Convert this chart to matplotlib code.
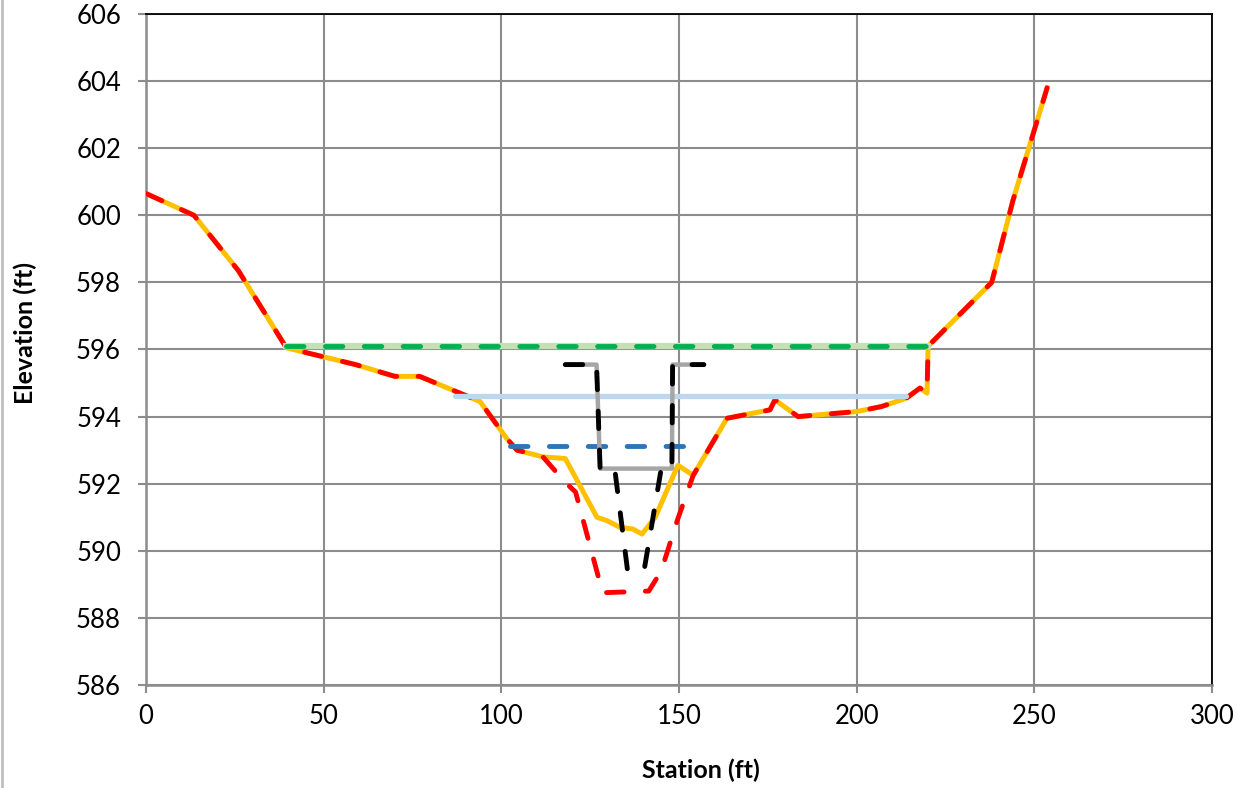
import matplotlib
matplotlib.use("Agg")
import matplotlib.pyplot as plt
from matplotlib.lines import Line2D

# existing ground profile
existing_sta = [0, 13.5, 26, 39.5, 59, 70, 77, 94, 101.5, 104.4, 111.7, 118,
                126.9, 129.7, 133.4, 137, 139.6, 143.3, 149.7, 154, 163.5,
                175.6, 177, 183.5, 200, 207, 214, 217.8, 219.8, 220.1, 238,
                244, 253.6]
existing_elev = [600.65, 600.0, 598.35, 596.05, 595.55, 595.2, 595.2, 594.45,
                 593.35, 593.0, 592.8, 592.75, 591.0, 590.9, 590.7, 590.65,
                 590.5, 591.0, 592.55, 592.25, 593.95, 594.2, 594.5, 594.0,
                 594.15, 594.3, 594.55, 594.85, 594.7, 596.1, 598.0, 600.45,
                 603.8]

# proposed ground profile (differs only in the channel)
proposed_sta = [0, 13.5, 26, 39.5, 59, 70, 77, 94, 101.5, 104.4, 111.7, 117.9,
                120.9, 128.5, 141.5, 145, 149.5, 154, 163.5, 175.6, 177, 183.5,
                200, 207, 214, 217.8, 219.8, 220.1, 238, 244, 253.6]
proposed_elev = [600.65, 600.0, 598.35, 596.05, 595.55, 595.2, 595.2, 594.45,
                 593.35, 593.0, 592.8, 592.05, 591.75, 588.75, 588.8, 589.4,
                 590.9, 592.25, 593.95, 594.2, 594.5, 594.0, 594.15, 594.3,
                 594.55, 594.85, 594.7, 596.1, 598.0, 600.45, 603.8]

# design channel sections
channel_sta = [118, 126.8, 127.8, 148, 148.2, 157]
channel_elev = [595.55, 595.55, 592.45, 592.45, 595.55, 595.55]
lowflow_sta = [118, 126.8, 127.8, 131.9, 135.5, 140.2, 145, 148, 148.2, 157]
lowflow_elev = [595.55, 595.55, 592.45, 592.45, 589.43, 589.43, 592.45,
                592.45, 595.55, 595.55]

# water surfaces
ws_high_sta = [39.5, 220]
ws_high_elev = [596.1, 596.1]
ws_mid_sta = [87, 214]
ws_mid_elev = [594.6, 594.6]
ws_low_sta = [102.4, 156]
ws_low_elev = [593.12, 593.12]

xticks = [0, 50, 100, 150, 200, 250, 300]
yticks = [586, 588, 590, 592, 594, 596, 598, 600, 602, 604, 606]


def dashed(ax, x, y, color, lw=3.5, z=3):
    line, = ax.plot(x, y, color=color, lw=lw, zorder=z,
                    dash_capstyle='round', solid_capstyle='round')
    line.set_dashes((3.6, 4.4))
    return line


def main():
    plt.rcParams['font.family'] = ['Lato', 'DejaVu Sans']
    fig = plt.figure(figsize=(12.38, 7.88), dpi=100)
    ax = fig.add_axes([146 / 1238, 1 - 685 / 788,
                       (1212 - 146) / 1238, (685 - 14) / 788])

    ax.plot(existing_sta, existing_elev, color='#FFC000', lw=3.6, zorder=3,
            solid_joinstyle='round')
    dashed(ax, proposed_sta, proposed_elev, '#FF0000', z=4)

    ax.plot(ws_high_sta, ws_high_elev, color='#C5E0B4', lw=4.5, zorder=5)
    dashed(ax, ws_high_sta, ws_high_elev, '#00B050', z=6)
    ax.plot(ws_mid_sta, ws_mid_elev, color='#BDD7EE', lw=3.8, zorder=5,
            solid_capstyle='round')
    dashed(ax, ws_low_sta, ws_low_elev, '#2E75B6', z=6)

    ax.plot(channel_sta, channel_elev, color='#A6A6A6', lw=3.2, zorder=7,
            solid_joinstyle='round', solid_capstyle='round')
    dashed(ax, lowflow_sta, lowflow_elev, '#000000', z=8)

    ax.set_xlim(0, 300)
    ax.set_ylim(586, 606)
    ax.set_xticks(xticks)
    ax.set_yticks(yticks)
    ax.grid(True, color='#8C8C8C', lw=1.5, zorder=0)
    ax.set_axisbelow(True)

    for side in ['left', 'bottom']:
        ax.spines[side].set_color('#8C8C8C')
        ax.spines[side].set_linewidth(1.8)
    for side in ['top', 'right']:
        ax.spines[side].set_color('black')
        ax.spines[side].set_linewidth(1.3)
    ax.tick_params(axis='both', colors='#8C8C8C', labelcolor='black',
                   labelsize=18.5, length=6, width=1.5)
    ax.tick_params(axis='y', pad=12)
    ax.tick_params(axis='x', pad=8)

    fig.text(701 / 1238, 1 - 770 / 788, 'Station (ft)', fontsize=18,
             fontweight='bold', ha='center', va='center')
    fig.text(25 / 1238, 1 - 333 / 788, 'Elevation (ft)', fontsize=18,
             fontweight='bold', ha='center', va='center', rotation=90)

    fig.add_artist(Line2D([2 / 1238, 2 / 1238], [0, 1], color='#BFBFBF',
                          lw=2, transform=fig.transFigure))
    fig.savefig('out.png', dpi=100)


if __name__ == "__main__":
    main()
